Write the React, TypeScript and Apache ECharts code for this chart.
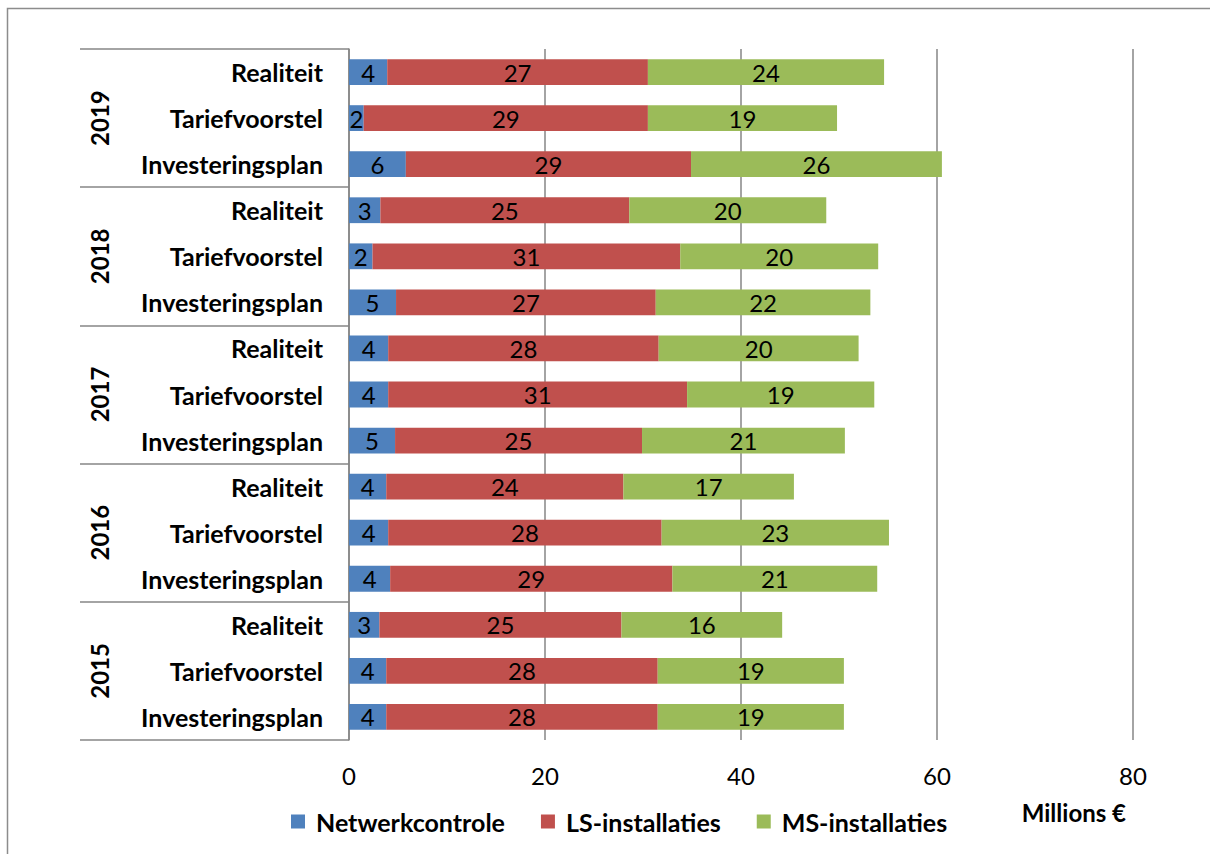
import React, { useEffect, useRef } from "react";
import * as echarts from "echarts";

const years = ["2015", "2016", "2017", "2018", "2019"];
const scenarios = ["Investeringsplan", "Tariefvoorstel", "Realiteit"];
// bottom to top
const categories = years.flatMap((y) => scenarios.map((s) => `${y} ${s}`));
const netwerkcontrole = [3.8, 3.8, 3.1, 4.2, 4.0, 3.8, 4.7, 4.0, 4.0, 4.8, 2.4, 3.2, 5.8, 1.5, 3.9];
const lsInstallaties = [27.7, 27.7, 24.7, 28.8, 27.9, 24.2, 25.2, 30.5, 27.6, 26.5, 31.4, 25.4, 29.1, 29.0, 26.6];
const msInstallaties = [19.0, 19.0, 16.4, 20.9, 23.2, 17.4, 20.7, 19.1, 20.4, 21.9, 20.2, 20.1, 25.6, 19.3, 24.1];
const seriesNames = ["Netwerkcontrole", "LS-installaties", "MS-installaties"];
const colors = ["#4F81BD", "#C0504D", "#9BBB59"];
const xTicks = { min: 0, max: 80, interval: 20 };
const unitLabel = "Millions €";

const FONT = "Lato";

export default function App() {
  const ref = useRef<HTMLDivElement>(null);
  useEffect(() => {
    if (!ref.current) return;
    const chart = echarts.init(ref.current, undefined, { renderer: "svg" });
    const values = [netwerkcontrole, lsInstallaties, msInstallaties];
    chart.setOption({
      animation: false,
      textStyle: { fontFamily: FONT },
      grid: { left: 349, right: 77, top: 49, bottom: 114, containLabel: false },
      graphic: [
        {
          type: "rect",
          shape: { x: 7.5, y: 8.5, width: 1400, height: 1000 },
          style: { fill: "none", stroke: "#8c8c8c", lineWidth: 1.5 },
          silent: true,
        },
        {
          type: "text",
          right: 84,
          top: 800,
          style: { text: unitLabel, fontFamily: FONT, fontWeight: "bold", fontSize: 24, fill: "#000" },
        },
      ],
      legend: {
        data: seriesNames,
        left: 286,
        top: 804,
        icon: "rect",
        itemWidth: 14,
        itemHeight: 14,
        itemGap: 36,
        textStyle: { fontFamily: FONT, fontWeight: "bold", fontSize: 25, color: "#000", padding: [0, 0, 0, 6] },
      },
      xAxis: {
        type: "value",
        min: xTicks.min,
        max: xTicks.max,
        interval: xTicks.interval,
        axisLine: { show: false },
        axisTick: { show: false },
        splitLine: { show: true, lineStyle: { color: "#868686", width: 1.5 } },
        axisLabel: { fontFamily: FONT, fontSize: 24, color: "#000", margin: 23 },
      },
      yAxis: [
        {
          type: "category",
          data: categories,
          axisLine: { show: true, lineStyle: { color: "#868686", width: 1.5 } },
          axisTick: { show: false },
          axisLabel: {
            formatter: (v: string) => v.split(" ")[1],
            fontFamily: FONT,
            fontWeight: "bold",
            fontSize: 25,
            color: "#000",
            margin: 26,
          },
        },
        {
          type: "category",
          data: years,
          position: "left",
          offset: 269,
          axisLine: { show: false },
          axisTick: { show: true, inside: true, length: 269, lineStyle: { color: "#868686", width: 1.5 } },
          axisLabel: {
            inside: true,
            rotate: 90,
            fontFamily: FONT,
            fontWeight: "bold",
            fontSize: 24,
            color: "#000",
            margin: 7,
          },
        },
      ],
      series: seriesNames.map((name, i) => ({
        name,
        type: "bar",
        stack: "total",
        yAxisIndex: 0,
        barCategoryGap: "44%",
        data: values[i],
        itemStyle: { color: colors[i] },
        label: {
          show: true,
          position: "inside",
          formatter: (p: any) => String(Math.round(p.value)),
          fontFamily: FONT,
          fontSize: 24,
          color: "#000",
        },
      })),
    });
    return () => chart.dispose();
  }, []);
  return (
    <div
      ref={ref}
      style={{ position: "absolute", left: 0, top: 0, width: 1210, height: 854, background: "#fff" }}
    />
  );
}
